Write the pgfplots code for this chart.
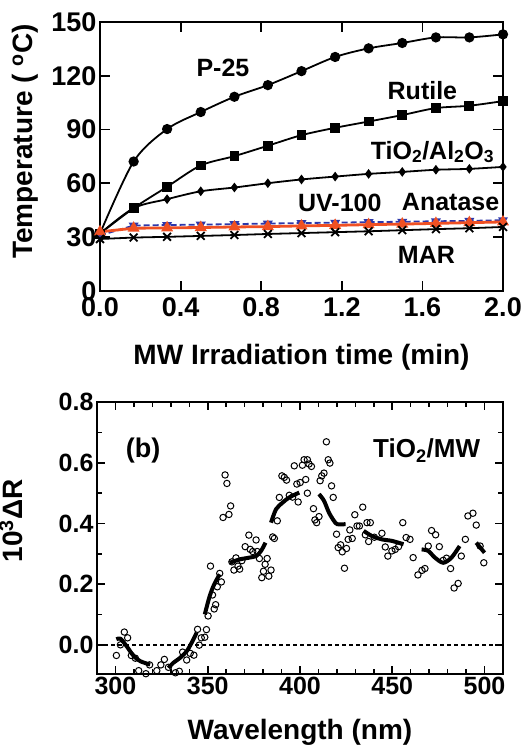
\documentclass[border=0pt]{standalone}
\usepackage{fontspec}
\setmainfont{Liberation Sans}
\usepackage{pgfplots}
\pgfplotsset{compat=1.18}

\newcommand{\tickf}{\fontsize{27}{30}\selectfont\bfseries}
\newcommand{\labf}{\fontsize{28}{32}\selectfont\bfseries}
\newcommand{\txtf}{\fontsize{25}{28}\selectfont\bfseries}
\definecolor{uvblue}{RGB}{45,55,170}
\definecolor{anared}{RGB}{240,80,35}

\pgfplotsset{
  panel/.style={
    scale only axis, tick align=inside,
    axis line style={line width=1.8pt},
    major tick style={line width=1.8pt, black},
    minor tick style={line width=1.5pt, black},
    /pgf/number format/assume math mode=true,
  },
}

\begin{document}
\begin{tikzpicture}
% (a) temperature vs time
\begin{axis}[panel,
  at={(100pt,461pt)}, anchor=south west,
  width=403pt, height=269pt,
  xmin=0, xmax=2, ymin=0, ymax=150,
  xtick={0,0.4,0.8,1.2,1.6,2}, ytick={0,30,60,90,120,150},
  major tick length=10pt,
  tick label style={font=\tickf},
  x tick label style={yshift=-3pt, /pgf/number format/.cd, fixed, fixed zerofill, precision=1},
  xlabel={MW Irradiation time (min)},
  xlabel style={font=\labf, at={(axis description cs:0.5,0)}, anchor=center, yshift=-66pt},
  ylabel={Temperature ( \textsuperscript{o}C)},
  ylabel style={font=\labf, at={(axis description cs:-0.186,0.556)}, anchor=center},
]
\addplot[black, line width=1.8pt, smooth, mark=*, mark size=4.2pt] coordinates {
  (0,32)(0.167,72.2)(0.333,90.3)(0.5,99.8)(0.667,108.3)(0.833,114.8)(1.0,122.6)
  (1.167,130.5)(1.333,135.3)(1.5,138.3)(1.667,141.4)(1.833,141.4)(2.0,143.1)
};
\addplot[black, line width=1.8pt, smooth, mark=square*, mark size=4pt] coordinates {
  (0,32)(0.167,46.2)(0.333,58.1)(0.5,70.0)(0.667,75.2)(0.833,81.0)(1.0,86.9)
  (1.167,91.0)(1.333,94.5)(1.5,98.1)(1.667,102.0)(1.833,103.3)(2.0,105.9)
};
\addplot[black, line width=1.8pt, smooth, mark=diamond*, mark size=3.4pt] coordinates {
  (0,32)(0.167,46.2)(0.333,51.2)(0.5,55.6)(0.667,57.7)(0.833,60.1)(1.0,62.2)
  (1.167,63.8)(1.333,65.3)(1.5,66.4)(1.667,67.6)(1.833,68.1)(2.0,69.2)
};
\addplot[uvblue, line width=1.8pt, dash pattern=on 6pt off 3pt, mark=triangle*, mark size=4pt,
  mark options={solid, rotate=180}] coordinates {
  (0,31)(0.167,36.5)(0.333,36.8)(0.5,37.0)(0.667,37.3)(0.833,37.6)(1.0,37.9)
  (1.167,38.1)(1.333,38.4)(1.5,38.6)(1.667,38.9)(1.833,39.1)(2.0,39.5)
};
\addplot[anared, line width=2.8pt, mark=triangle*, mark size=4.2pt] coordinates {
  (0,33)(0.167,35.0)(0.333,35.2)(0.5,35.4)(0.667,35.7)(0.833,35.9)(1.0,36.3)
  (1.167,36.6)(1.333,37.0)(1.5,37.3)(1.667,37.7)(1.833,38.1)(2.0,38.5)
};
\addplot[black, line width=1.8pt, mark=x, mark size=5.5pt] coordinates {
  (0,29.0)(0.167,29.8)(0.333,30.2)(0.5,30.7)(0.667,31.2)(0.833,31.8)(1.0,32.3)
  (1.167,32.8)(1.333,33.3)(1.5,33.9)(1.667,34.5)(1.833,35.0)(2.0,35.7)
};
\node[font=\txtf] at (axis cs:0.61,124.5) {P-25};
\node[font=\txtf] at (axis cs:1.60,112) {Rutile};
\node[font=\txtf] at (axis cs:1.65,77.5) {TiO\textsubscript{2}/Al\textsubscript{2}O\textsubscript{3}};
\node[font=\txtf] at (axis cs:1.19,49) {UV-100};
\node[font=\txtf] at (axis cs:1.74,49.5) {Anatase};
\node[font=\txtf] at (axis cs:1.62,20) {MAR};
\end{axis}

% (b) spectrum
\begin{axis}[panel,
  at={(97pt,78pt)}, anchor=south west,
  width=406pt, height=272pt,
  xmin=290, xmax=510, ymin=-0.095, ymax=0.8,
  xtick={300,350,400,450,500}, minor x tick num=4,
  ytick={0,0.2,0.4,0.6,0.8}, minor y tick num=1,
  major tick length=8pt, minor tick length=5pt,
  tick label style={font=\fontsize{25}{28}\selectfont\bfseries},
  y tick label style={/pgf/number format/.cd, fixed, fixed zerofill, precision=1},
  xlabel={Wavelength (nm)},
  xlabel style={font=\labf, at={(axis description cs:0.5,0)}, anchor=center, yshift=-58pt},
  ylabel={10\textsuperscript{3}ΔR},
  ylabel style={font=\labf, at={(axis description cs:-0.212,0.5625)}, anchor=center},
]
\addplot[black, line width=1.5pt, dash pattern=on 4pt off 3pt] coordinates {(290,0)(510,0)};
\addplot[only marks, mark=o, mark size=3.2pt, mark options={black, line width=1pt}] coordinates {
  (300.5,-0.034)(302.7,0.001)(304.8,0.043)(306.6,0.024)(308.6,-0.034)(310.8,-0.043)
  (312.6,-0.084)(316.5,-0.094)(318.5,-0.065)(322.4,-0.084)(324.6,-0.065)(326.5,-0.047)
  (328.7,-0.073)(332.5,-0.091)(334.6,-0.086)(336.4,-0.023)(338.6,-0.049)(340.5,-0.027)
  (342.5,-0.033)(344.5,0.052)(345.4,0.000)(346.5,0.024)(348.4,0.026)(349.3,0.051)
  (350.2,0.096)(351.5,0.260)(352.6,0.165)(353.5,0.119)(354.3,0.133)(355.2,0.192)
  (356.5,0.236)(357.4,0.208)(358.3,0.420)(359.4,0.560)(360.4,0.532)(361.5,0.430)
  (362.4,0.458)(363.1,0.274)(364.2,0.247)(365.3,0.287)(366.4,0.260)(367.3,0.250)
  (368.5,0.278)(370.3,0.324)(372.3,0.362)(373.0,0.315)(374.4,0.308)(376.2,0.346)
  (376.8,0.308)(378.0,0.285)(379.3,0.222)(380.2,0.243)(381.1,0.266)(382.2,0.285)
  (383.1,0.227)(384.3,0.247)(385.2,0.356)(386.1,0.351)(387.7,0.409)(388.8,0.486)
  (390.2,0.557)(391.5,0.552)(392.7,0.543)(394.2,0.493)(396.0,0.487)(396.9,0.590)
  (398.3,0.530)(399.0,0.471)(400.1,0.535)(401.3,0.592)(402.2,0.610)(403.1,0.545)
  (404.0,0.610)(404.0,0.500)(404.9,0.596)(406.2,0.588)(407.3,0.449)(408.1,0.412)
  (409.0,0.403)(410.3,0.423)(410.9,0.541)(411.8,0.557)(413.0,0.566)(414.3,0.669)
  (415.3,0.610)(416.2,0.599)(417.1,0.524)(418.0,0.486)(419.8,0.365)(420.7,0.321)
  (422.0,0.330)(422.9,0.307)(424.1,0.253)(425.2,0.318)(426.1,0.348)(427.0,0.379)
  (428.3,0.351)(429.7,0.429)(430.9,0.392)(432.2,0.392)(434.0,0.454)(435.4,0.363)
  (436.3,0.403)(437.2,0.341)(438.1,0.403)(440.3,0.355)(444.4,0.368)(446.2,0.323)
  (447.6,0.293)(449.8,0.310)(451.6,0.315)(453.4,0.324)(455.7,0.403)(457.5,0.354)
  (459.6,0.348)(461.3,0.288)(463.9,0.231)(466.1,0.246)(467.7,0.252)(469.5,0.326)
  (471.3,0.377)(473.5,0.363)(475.5,0.324)(477.6,0.279)(479.4,0.286)(481.6,0.252)
  (483.5,0.188)(485.7,0.203)(487.4,0.293)(489.6,0.348)(491.0,0.425)(493.7,0.434)
  (495.5,0.395)(497.6,0.326)(499.6,0.271)
};
% smoothed segments
\addplot[black, line width=4pt, smooth] coordinates {
  (300.5,0.019)(302.7,0.021)(306,-0.003)(309.9,-0.036)(313.5,-0.053)(318.8,-0.064)};
\addplot[black, line width=4pt, smooth] coordinates {
  (328.7,-0.075)(331.4,-0.058)(335,-0.042)(338.6,-0.020)(341.3,0.008)(344,0.041)};
\addplot[black, line width=4pt, smooth] coordinates {
  (348.4,0.101)(351,0.160)(353.5,0.200)(356.5,0.233)};
\addplot[black, line width=4pt, smooth] coordinates {
  (361.9,0.271)(367.3,0.282)(372.6,0.288)(376.2,0.293)(378.9,0.310)(381.3,0.337)};
\addplot[black, line width=4pt, smooth] coordinates {
  (384.3,0.403)(387,0.447)(390.6,0.469)(394.2,0.486)(399.6,0.502)};
\addplot[black, line width=4pt, smooth] coordinates {
  (410.3,0.497)(413,0.475)(415.7,0.436)(418.4,0.409)(420.2,0.398)(424.7,0.398)};
\addplot[black, line width=4pt, smooth] coordinates {
  (434.5,0.376)(439,0.359)(444.4,0.348)(449.8,0.343)(456.1,0.332)};
\addplot[black, line width=4pt, smooth] coordinates {
  (465.9,0.315)(469.5,0.310)(473.1,0.288)(477.6,0.271)(482.1,0.288)(486.5,0.326)};
\addplot[black, line width=4pt, smooth] coordinates {
  (495.5,0.337)(500,0.304)};
\node[font=\fontsize{27}{30}\selectfont\bfseries] at (axis cs:315,0.64) {(b)};
\node[font=\fontsize{26}{30}\selectfont\bfseries, anchor=east] at (axis cs:499.5,0.64) {TiO\textsubscript{2}/MW};
\end{axis}
\pgfresetboundingbox
\useasboundingbox (0,0) rectangle (526pt,752pt);
\end{tikzpicture}
\end{document}
